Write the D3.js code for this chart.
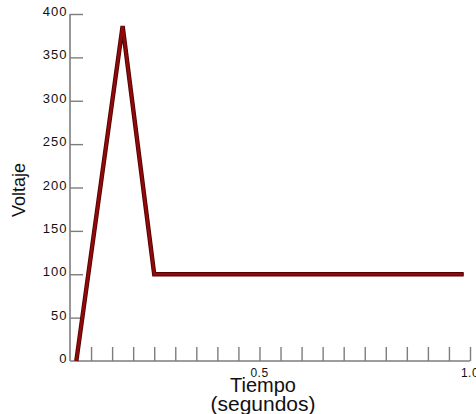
<!DOCTYPE html>
<html>
<head>
<meta charset="utf-8">
<script src="https://cdn.jsdelivr.net/npm/d3@7"></script>
<style>
  html, body { margin: 0; padding: 0; background: #fff; }
  svg { display: block; }
</style>
</head>
<body>
<svg id="chart" width="476" height="414"></svg>
<script>
// Data
const timeValues = [0.065, 0.175, 0.25, 0.985];
const voltageValues = [0, 386, 100, 100];
const yTickValues = [50, 100, 150, 200, 250, 300, 350, 400];
const yTickLabels = ["0", "50", "100", "150", "200", "250", "300", "350", "400"];
const yLabelValues = [0, 50, 100, 150, 200, 250, 300, 350, 400];
const xTickValues = [0.1, 0.15, 0.2, 0.25, 0.3, 0.35, 0.4, 0.45, 0.5, 0.55, 0.6, 0.65, 0.7, 0.75, 0.8, 0.85, 0.9, 0.95, 1.0];
const xLabelValues = [0.5, 1.0];
const xLabelTexts = ["0.5", "1.0"];
const xTitle = "Tiempo";
const xSubTitle = "(segundos)";
const yTitle = "Voltaje";

const svg = d3.select("#chart");
const x = d3.scaleLinear().domain([0.05, 1.0]).range([70, 470]);
const y = d3.scaleLinear().domain([0, 400]).range([361, 14]);
const axisColor = "#7d7d7d";

// Y axis: line, inward ticks, labels on the left
const yAxis = d3.axisRight(y).tickValues(yTickValues).tickSize(13).tickFormat("");
const gy = svg.append("g").attr("transform", `translate(${x(0.05)},0)`).call(yAxis);
gy.select(".domain").attr("stroke", axisColor).attr("stroke-width", 1.6).attr("d", `M0,${y(0)}V${y(400)}`);
gy.selectAll(".tick line").attr("stroke", axisColor).attr("stroke-width", 1.4);

svg.append("g").selectAll("text").data(yLabelValues).join("text")
  .attr("x", 67.5)
  .attr("y", d => y(d) + 2)
  .attr("text-anchor", "end")
  .attr("font-family", "Arial, 'Liberation Sans', sans-serif")
  .attr("font-size", 13)
  .attr("letter-spacing", "1px")
  .attr("fill", "#111")
  .text((d, i) => yTickLabels[i]);

// X axis: line, upward ticks
const xAxis = d3.axisTop(x).tickValues(xTickValues).tickSize(14).tickFormat("");
const gx = svg.append("g").attr("transform", `translate(0,${y(0)})`).call(xAxis);
gx.select(".domain").attr("stroke", axisColor).attr("stroke-width", 1.6).attr("d", `M${x(0.05)},0H${x(1.0)}`);
gx.selectAll(".tick line").attr("stroke", axisColor).attr("stroke-width", 1.4);

svg.append("g").selectAll("text").data(xLabelValues).join("text")
  .attr("x", d => x(d))
  .attr("y", 377)
  .attr("text-anchor", "middle")
  .attr("font-family", "Arial, 'Liberation Sans', sans-serif")
  .attr("font-size", 12)
  .attr("letter-spacing", "0.5px")
  .attr("fill", "#111")
  .text((d, i) => xLabelTexts[i]);

// Titles
svg.append("text")
  .attr("x", 263).attr("y", 392)
  .attr("text-anchor", "middle")
  .attr("font-family", "Arial, 'Liberation Sans', sans-serif")
  .attr("font-size", 20)
  .attr("fill", "#111")
  .text(xTitle);
svg.append("text")
  .attr("x", 263).attr("y", 411)
  .attr("text-anchor", "middle")
  .attr("font-family", "Arial, 'Liberation Sans', sans-serif")
  .attr("font-size", 21)
  .attr("fill", "#111")
  .text(xSubTitle);
svg.append("text")
  .attr("transform", "translate(25,190) rotate(-90)")
  .attr("text-anchor", "middle")
  .attr("font-family", "Arial, 'Liberation Sans', sans-serif")
  .attr("font-size", 18)
  .attr("fill", "#111")
  .text(yTitle);

// Voltage line
const pts = timeValues.map((t, i) => [t, voltageValues[i]]);
const line = d3.line().x(d => x(d[0])).y(d => y(d[1]));
svg.append("path").datum(pts)
  .attr("d", line)
  .attr("fill", "none")
  .attr("stroke", "#550000")
  .attr("stroke-width", 4.4)
  .attr("stroke-linejoin", "miter");
svg.append("path").datum(pts)
  .attr("d", line)
  .attr("fill", "none")
  .attr("stroke", "#8f0a0a")
  .attr("stroke-width", 2.6)
  .attr("stroke-linejoin", "miter");
</script>
</body>
</html>
